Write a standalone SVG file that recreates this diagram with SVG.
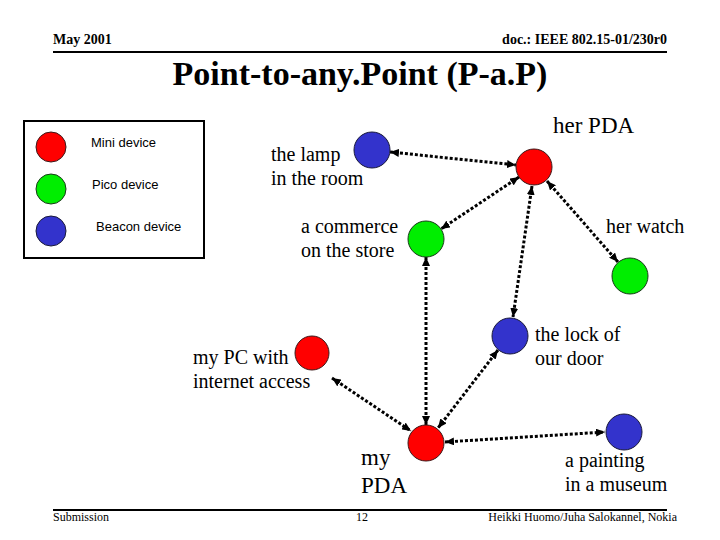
<svg xmlns="http://www.w3.org/2000/svg" width="720" height="540" viewBox="0 0 720 540">
<style>
.hdr{font-family:"Liberation Serif",serif;font-weight:bold;font-size:14px;fill:#000}
.title{font-family:"Liberation Serif",serif;font-weight:bold;font-size:34px;fill:#000}
.ftr{font-family:"Liberation Serif",serif;font-size:12px;fill:#000}
.leg{font-family:"Liberation Sans",sans-serif;font-size:13px;fill:#000}
.lbl{font-family:"Liberation Serif",serif;font-size:20px;fill:#000}
.big{font-family:"Liberation Serif",serif;font-size:23px;fill:#000}
.red{fill:#FF0000;stroke:#3a1a1a;stroke-width:1}
.green{fill:#00EE00;stroke:#1a3a1a;stroke-width:1}
.blue{fill:#3333CC;stroke:#1a1a3a;stroke-width:1}
.conn{stroke:#000;stroke-width:3;stroke-dasharray:3 2;fill:none;marker-start:url(#ah);marker-end:url(#ah)}
</style>
<defs>
<marker id="ah" markerUnits="userSpaceOnUse" markerWidth="9" markerHeight="8" refX="9" refY="4" orient="auto-start-reverse">
<path d="M0,0 L9,4 L0,8 z" fill="#000"/>
</marker>
</defs>
<rect width="720" height="540" fill="#fff"/>
<g id="header">
<text class="hdr" x="53" y="44">May 2001</text>
<text class="hdr" x="667" y="44" text-anchor="end">doc.: IEEE 802.15-01/230r0</text>
<line x1="53" y1="52" x2="667" y2="52" stroke="#000" stroke-width="2"/>
<text class="title" x="360" y="85" text-anchor="middle">Point-to-any.Point (P-a.P)</text>
</g>
<g id="footer">
<line x1="53" y1="510" x2="667" y2="510" stroke="#000" stroke-width="2"/>
<text class="ftr" x="53" y="521">Submission</text>
<text class="ftr" x="362" y="521" text-anchor="middle">12</text>
<text class="ftr" x="677" y="521" text-anchor="end">Heikki Huomo/Juha Salokannel, Nokia</text>
</g>
<g id="legend">
<rect x="24" y="121" width="180" height="137" fill="#fff" stroke="#000" stroke-width="2"/>
<circle class="red" cx="51" cy="147" r="15"/>
<circle class="green" cx="51" cy="189" r="15"/>
<circle class="blue" cx="51" cy="231" r="15"/>
<text class="leg" x="91" y="147">Mini device</text>
<text class="leg" x="92" y="189">Pico device</text>
<text class="leg" x="96" y="231">Beacon device</text>
</g>
<g id="connectors">
<line class="conn" x1="390" y1="152" x2="516" y2="165"/>
<line class="conn" x1="519" y1="177" x2="441" y2="229"/>
<line class="conn" x1="532" y1="186" x2="513" y2="317"/>
<line class="conn" x1="547" y1="181" x2="618" y2="262"/>
<line class="conn" x1="426" y1="257" x2="426" y2="425"/>
<line class="conn" x1="498" y1="350" x2="438" y2="428"/>
<line class="conn" x1="332" y1="378" x2="411" y2="431"/>
<line class="conn" x1="445" y1="442" x2="605" y2="432"/>
</g>
<g id="lamp">
<circle class="blue" cx="372" cy="150" r="18"/>
<text class="lbl" x="271" y="161">the lamp</text>
<text class="lbl" x="271" y="185">in the room</text>
</g>
<g id="her-pda">
<circle class="red" cx="534" cy="167" r="18"/>
<text class="big" x="553" y="133">her PDA</text>
</g>
<g id="commerce">
<circle class="green" cx="426" cy="239" r="18"/>
<text class="lbl" x="301" y="233">a commerce</text>
<text class="lbl" x="301" y="257">on the store</text>
</g>
<g id="her-watch">
<circle class="green" cx="630" cy="276" r="18"/>
<text class="lbl" x="606" y="233">her watch</text>
</g>
<g id="lock">
<circle class="blue" cx="510" cy="336" r="18"/>
<text class="lbl" x="535" y="341">the lock of</text>
<text class="lbl" x="535" y="365">our door</text>
</g>
<g id="pc">
<circle class="red" cx="312" cy="353" r="17"/>
<text class="lbl" x="193" y="364">my PC with</text>
<text class="lbl" x="193" y="388">internet access</text>
</g>
<g id="my-pda">
<circle class="red" cx="426" cy="443" r="18"/>
<text class="big" x="361" y="465">my</text>
<text class="big" x="361" y="493">PDA</text>
</g>
<g id="painting">
<circle class="blue" cx="624" cy="432" r="18"/>
<text class="lbl" x="565" y="467">a painting</text>
<text class="lbl" x="565" y="491">in a museum</text>
</g>
</svg>
